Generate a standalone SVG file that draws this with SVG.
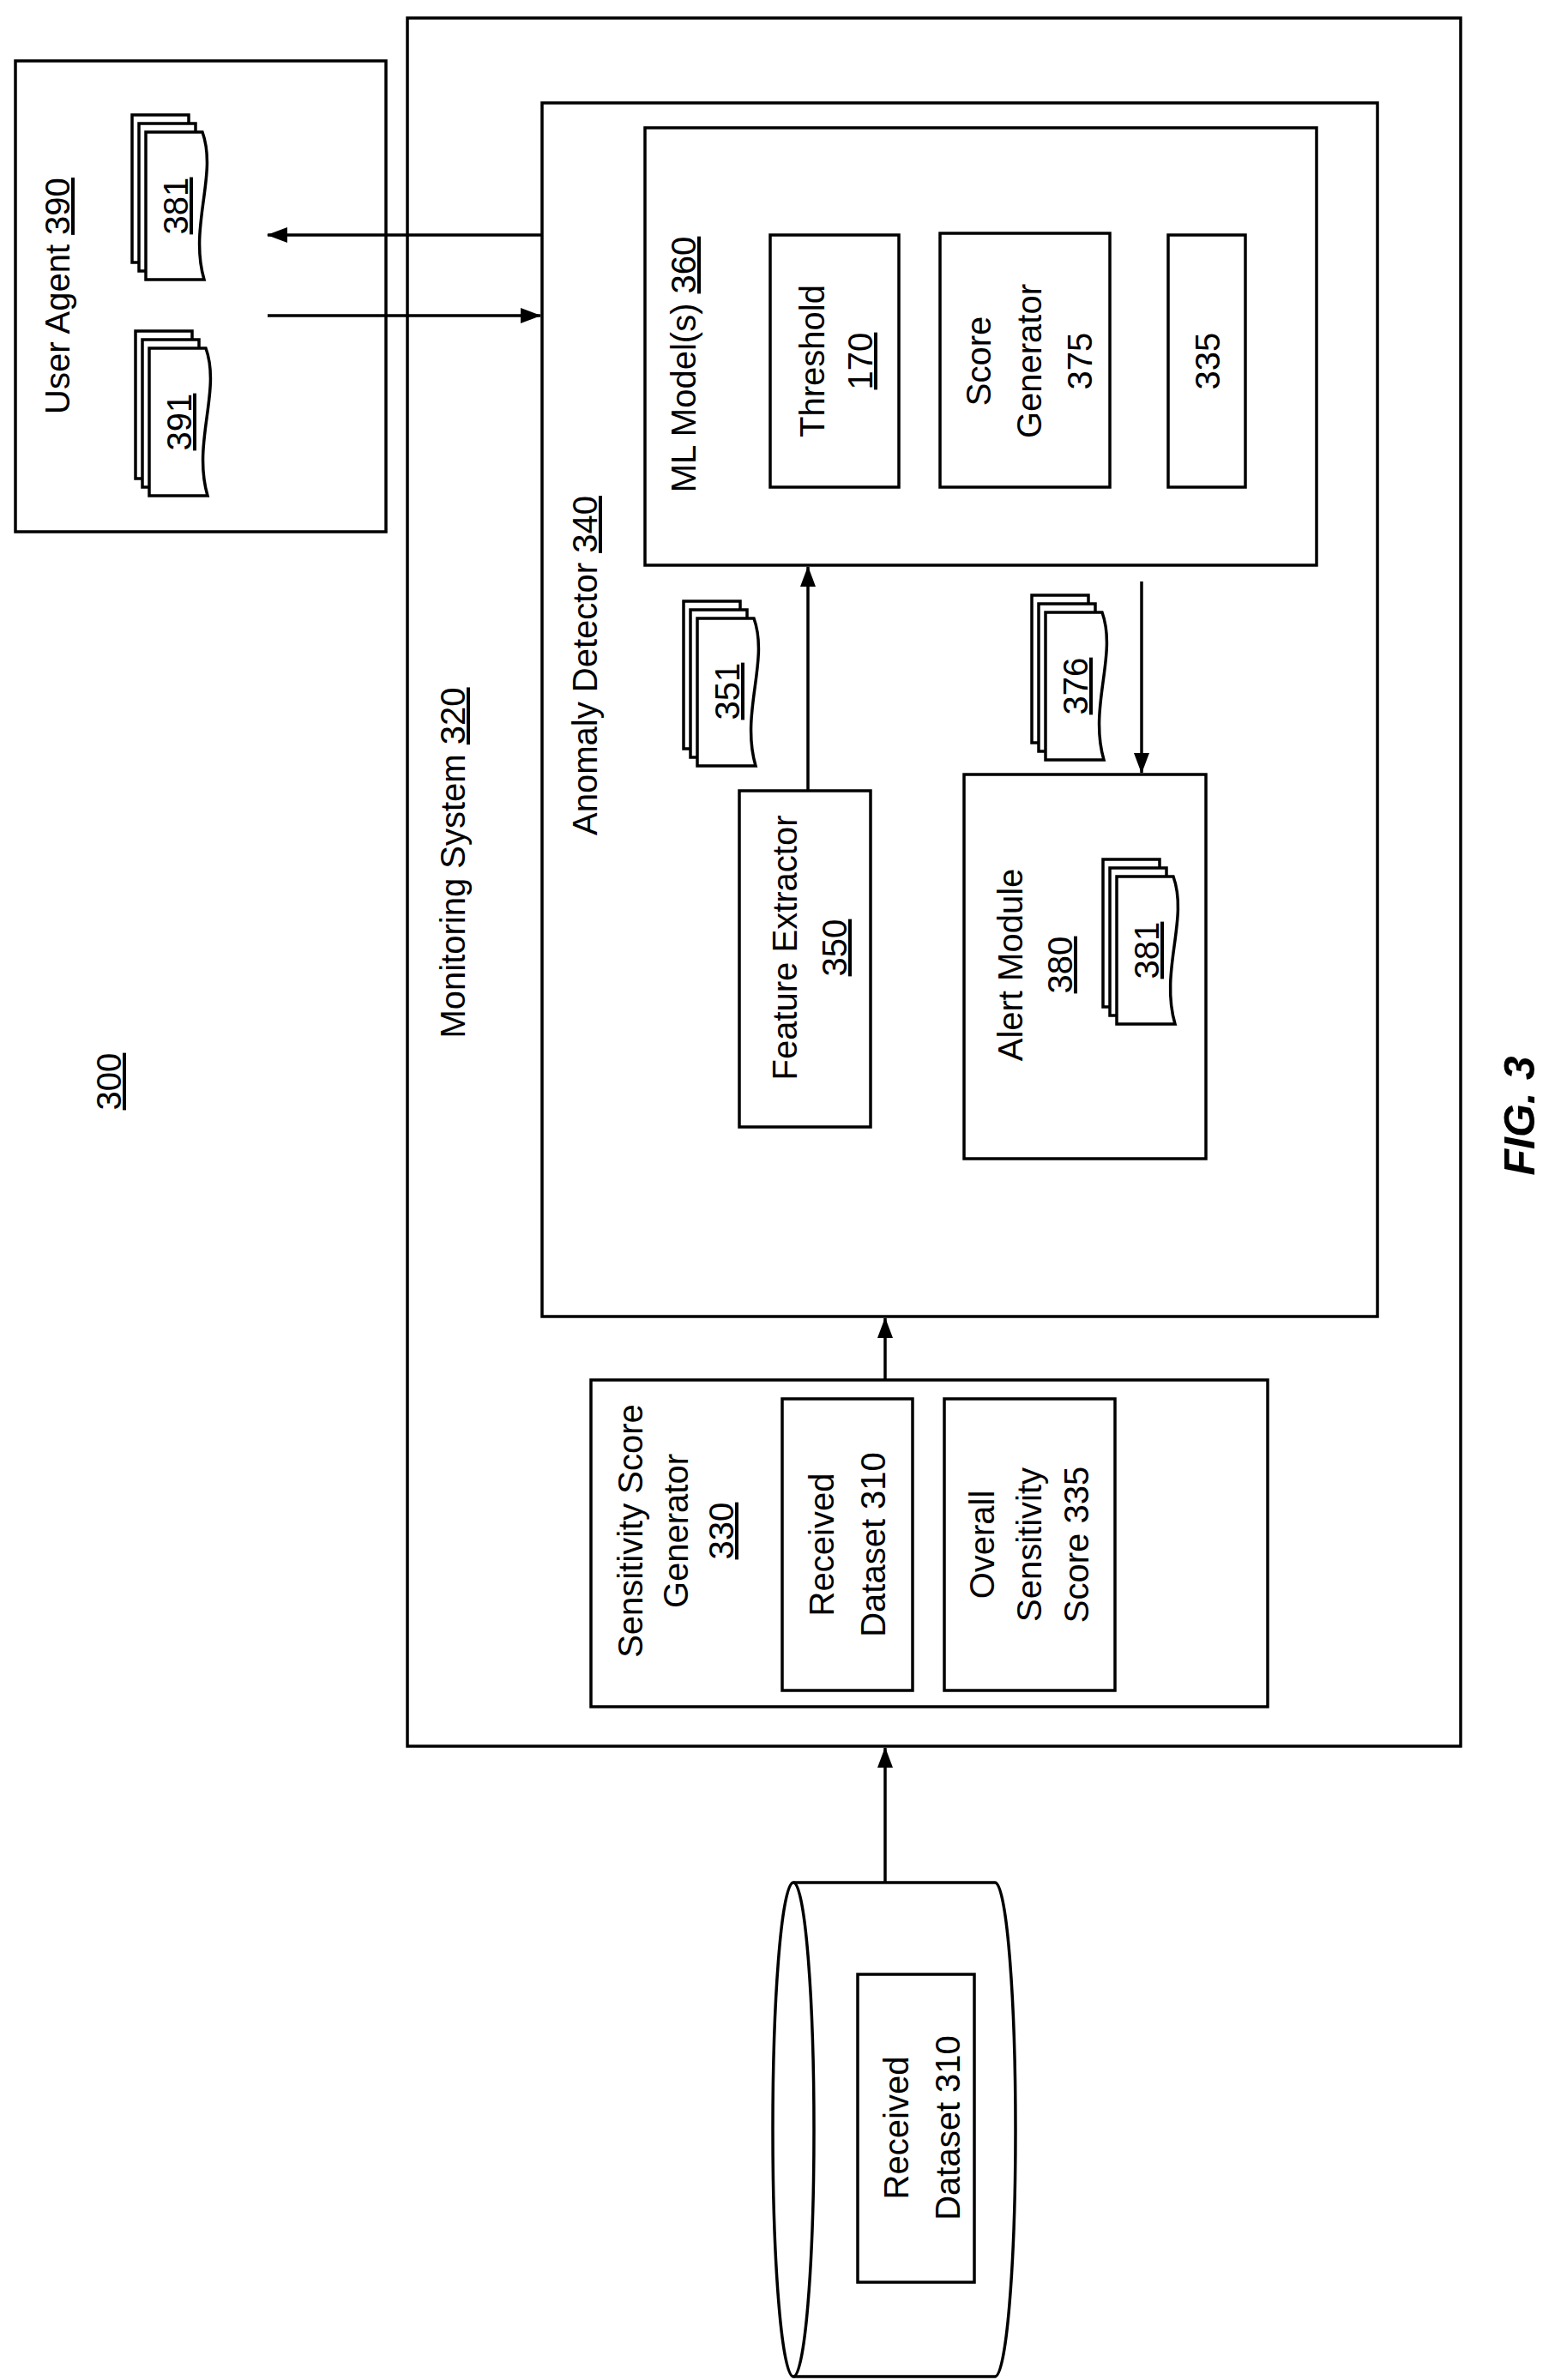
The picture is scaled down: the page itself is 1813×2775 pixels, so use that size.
<svg xmlns="http://www.w3.org/2000/svg" xmlns:xlink="http://www.w3.org/1999/xlink" width="1813" height="2775" viewBox="0 0 1813 2775">
<style>
.b{fill:#fff;stroke:#000;stroke-width:3.5}
.t{font-family:"Liberation Sans",Arial,sans-serif;font-size:40px;text-anchor:middle;fill:#000}
.u{text-decoration:underline}
.c{stroke:#000;stroke-width:3.5;fill:none;marker-end:url(#ah)}
</style>
<defs>
<marker id="ah" viewBox="0 0 24 18" refX="23" refY="9" markerWidth="24" markerHeight="18" markerUnits="userSpaceOnUse" orient="auto">
<path d="M0,0 L24,9 L0,18 z" fill="#000"/>
</marker>
<g id="doc">
<rect x="-16" y="-20" width="66" height="172" class="b"/>
<rect x="-8" y="-10" width="66" height="172" class="b"/>
<path d="M0,0 H66 C84,50 50,110 68,172 H0 Z" class="b"/>
</g>
</defs>
<rect width="1813" height="2775" fill="#fff"/>
<g id="label300"><text class="t u" transform="translate(127,1261) rotate(-90)" dy=".35em">300</text></g>
<g id="fig"><text class="t" style="font-weight:bold;font-style:italic;font-size:50px" transform="translate(1771,1301) rotate(-90)" dy=".35em">FIG. 3</text></g>

<g id="user-agent">
<rect x="18" y="71" width="432" height="549" class="b"/>
<text class="t" transform="translate(67,345) rotate(-90)" dy=".35em">User Agent <tspan class="u">390</tspan></text>
<use xlink:href="#doc" href="#doc" transform="translate(170,154)"/>
<text class="t u" transform="translate(205,240) rotate(-90)" dy=".35em">381</text>
<use xlink:href="#doc" href="#doc" transform="translate(174,406)"/>
<text class="t u" transform="translate(209,492) rotate(-90)" dy=".35em">391</text>
</g>

<g id="monitoring-system">
<rect x="475" y="21" width="1228" height="2015" class="b"/>
<text class="t" transform="translate(528,1006) rotate(-90)" dy=".35em">Monitoring System <tspan class="u">320</tspan></text>
</g>

<g id="anomaly-detector">
<rect x="632" y="120" width="974" height="1415" class="b"/>
<text class="t" transform="translate(682,776) rotate(-90)" dy=".35em">Anomaly Detector <tspan class="u">340</tspan></text>
</g>

<g id="ml-models">
<rect x="752" y="149" width="783" height="510" class="b"/>
<text class="t" transform="translate(797,425) rotate(-90)" dy=".35em">ML Model(s) <tspan class="u">360</tspan></text>
</g>
<g id="threshold">
<rect x="898" y="274" width="150" height="294" class="b"/>
<text class="t" transform="translate(947,421) rotate(-90)" dy=".35em">Threshold</text>
<text class="t u" transform="translate(1003,421) rotate(-90)" dy=".35em">170</text>
</g>
<g id="score-generator">
<rect x="1096" y="272" width="198" height="296" class="b"/>
<text class="t" transform="translate(1141,421) rotate(-90)" dy=".35em">Score</text>
<text class="t" transform="translate(1200,421) rotate(-90)" dy=".35em">Generator</text>
<text class="t" transform="translate(1259,421) rotate(-90)" dy=".35em">375</text>
</g>
<g id="box335">
<rect x="1362" y="274" width="90" height="294" class="b"/>
<text class="t" transform="translate(1408,421) rotate(-90)" dy=".35em">335</text>
</g>

<g id="doc351">
<use xlink:href="#doc" href="#doc" transform="translate(813,721)"/>
<text class="t u" transform="translate(848,806) rotate(-90)" dy=".35em">351</text>
</g>
<g id="doc376">
<use xlink:href="#doc" href="#doc" transform="translate(1219,714)"/>
<text class="t u" transform="translate(1254,800) rotate(-90)" dy=".35em">376</text>
</g>

<g id="feature-extractor">
<rect x="862" y="922" width="153" height="392" class="b"/>
<text class="t" transform="translate(915,1105) rotate(-90)" dy=".35em">Feature Extractor</text>
<text class="t u" transform="translate(973,1105) rotate(-90)" dy=".35em">350</text>
</g>

<g id="alert-module">
<rect x="1124" y="903" width="282" height="448" class="b"/>
<text class="t" transform="translate(1178,1125) rotate(-90)" dy=".35em">Alert Module</text>
<text class="t u" transform="translate(1236,1125) rotate(-90)" dy=".35em">380</text>
<use xlink:href="#doc" href="#doc" transform="translate(1302,1022)"/>
<text class="t u" transform="translate(1337,1108) rotate(-90)" dy=".35em">381</text>
</g>

<g id="sensitivity-score-generator">
<rect x="689" y="1609" width="789" height="381" class="b"/>
<text class="t" transform="translate(735,1785) rotate(-90)" dy=".35em">Sensitivity Score</text>
<text class="t" transform="translate(788,1785) rotate(-90)" dy=".35em">Generator</text>
<text class="t u" transform="translate(841,1785) rotate(-90)" dy=".35em">330</text>
</g>
<g id="received-dataset-inner">
<rect x="912" y="1631" width="152" height="340" class="b"/>
<text class="t" transform="translate(958,1801) rotate(-90)" dy=".35em">Received</text>
<text class="t" transform="translate(1018,1801) rotate(-90)" dy=".35em">Dataset 310</text>
</g>
<g id="overall-sensitivity">
<rect x="1101" y="1631" width="199" height="340" class="b"/>
<text class="t" transform="translate(1145,1801) rotate(-90)" dy=".35em">Overall</text>
<text class="t" transform="translate(1200,1801) rotate(-90)" dy=".35em">Sensitivity</text>
<text class="t" transform="translate(1255,1801) rotate(-90)" dy=".35em">Score 335</text>
</g>

<g id="database">
<path d="M925,2195 H1160 A24,288 0 0 1 1160,2771 H925" class="b"/>
<ellipse cx="925" cy="2483" rx="24" ry="288" class="b"/>
<rect x="1000" y="2302" width="136" height="359" class="b"/>
<text class="t" transform="translate(1045,2481) rotate(-90)" dy=".35em">Received</text>
<text class="t" transform="translate(1105,2481) rotate(-90)" dy=".35em">Dataset 310</text>
</g>

<g id="connectors">
<line x1="1032" y1="2195" x2="1032" y2="2038" class="c"/>
<line x1="1032" y1="1609" x2="1032" y2="1537" class="c"/>
<line x1="942" y1="922" x2="942" y2="661" class="c"/>
<line x1="1331" y1="678" x2="1331" y2="901" class="c"/>
<line x1="632" y1="274" x2="312" y2="274" class="c"/>
<line x1="312" y1="368" x2="630" y2="368" class="c"/>
</g>
</svg>
